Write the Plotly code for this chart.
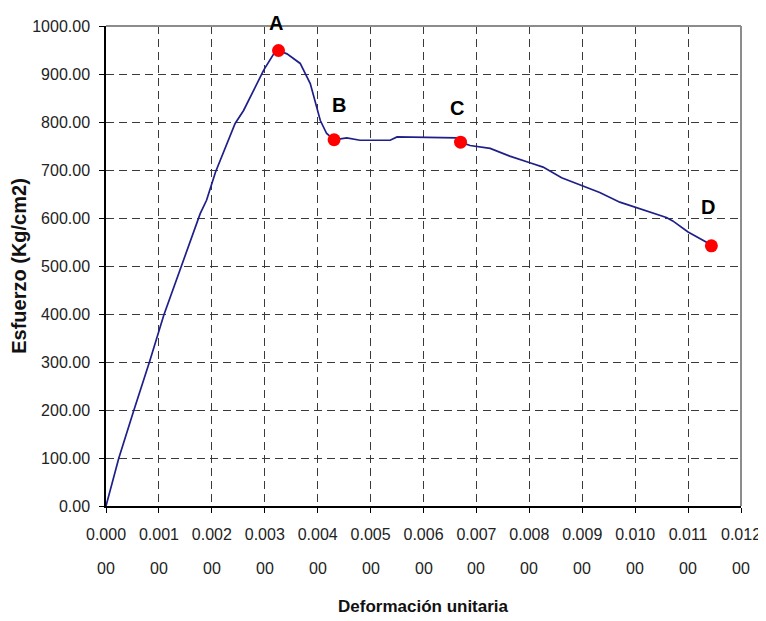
import plotly.graph_objects as go

# curve data: strain (deformación unitaria) vs stress (esfuerzo, Kg/cm2)
strain = [0.0, 0.00024, 0.000525, 0.00083, 0.00109, 0.00141, 0.00178, 0.0019, 0.00207,
          0.00244, 0.0026, 0.00298, 0.00317, 0.00326, 0.00342, 0.00367, 0.00386, 0.00405,
          0.00417, 0.00431, 0.00455, 0.0048, 0.00537, 0.0055, 0.00663, 0.0067, 0.00688,
          0.00726, 0.00763, 0.00801, 0.00826, 0.00861, 0.00914, 0.00933, 0.00971, 0.01002,
          0.01059, 0.01071, 0.011, 0.01134, 0.01144]
stress = [0, 99, 199, 303, 397, 496, 609, 637, 696,
          797, 824, 908, 942, 949, 942, 922, 880, 803,
          776, 763, 767, 762, 762, 769, 767, 758, 751,
          745, 729, 715, 706, 684, 661, 653, 633, 622,
          601, 594, 571, 550, 542]

# highlighted points
point_labels = ["A", "B", "C", "D"]
point_strain = [0.00326, 0.00431, 0.0067, 0.01144]
point_stress = [949, 763, 758, 542]
label_dx = [-3, 5, -4, -3]
label_dy = [-27, -35, -34, -39]

# axis ticks
x_ticks = [0.000, 0.001, 0.002, 0.003, 0.004, 0.005, 0.006, 0.007, 0.008, 0.009, 0.010, 0.011, 0.012]
x_tick_line1 = ["0.000", "0.001", "0.002", "0.003", "0.004", "0.005", "0.006",
                "0.007", "0.008", "0.009", "0.010", "0.011", "0.012"]
x_tick_line2 = ["00"] * 13
y_ticks = [0, 100, 200, 300, 400, 500, 600, 700, 800, 900, 1000]

FONT = "Liberation Sans, Arial, sans-serif"

fig = go.Figure()
fig.add_trace(go.Scatter(x=strain, y=stress, mode="lines",
                         line=dict(color="#1f1f8a", width=1.7), hoverinfo="skip"))
fig.add_trace(go.Scatter(x=point_strain, y=point_stress, mode="markers",
                         marker=dict(color="#ff0000", size=13), hoverinfo="skip"))

for lab, xv, yv, dx, dy in zip(point_labels, point_strain, point_stress, label_dx, label_dy):
    fig.add_annotation(x=xv, y=yv, text=f"<b>{lab}</b>", showarrow=False,
                       xshift=dx, yshift=-dy, font=dict(family=FONT, size=20, color="#000"))

for xv, t in zip(x_ticks, x_tick_line2):
    fig.add_annotation(x=xv, y=0, yref="paper", text=t, showarrow=False,
                       yanchor="middle", yshift=-62,
                       font=dict(family=FONT, size=16, color="#222"))

fig.add_annotation(x=0.5, xref="paper", y=0, yref="paper", yanchor="middle",
                   yshift=-100, text="<b>Deformación unitaria</b>", showarrow=False,
                   font=dict(family=FONT, size=17, color="#111"))

fig.update_xaxes(range=[0, 0.012], tickvals=x_ticks, ticktext=x_tick_line1,
                 tickfont=dict(family=FONT, size=16, color="#222"),
                 ticks="outside", ticklen=5, tickcolor="#000", ticklabelstandoff=8,
                 showline=True, linecolor="#000", linewidth=1.5,
                 showgrid=True, gridcolor="#3a3a3a", gridwidth=1, griddash="8px,5px",
                 zeroline=False, fixedrange=True, automargin=False)
fig.update_yaxes(range=[0, 1000], tickvals=y_ticks, tickformat=".2f",
                 tickfont=dict(family=FONT, size=16, color="#222"),
                 ticks="outside", ticklen=5, tickcolor="#000", ticklabelstandoff=6,
                 showline=True, linecolor="#000", linewidth=1.5,
                 showgrid=True, gridcolor="#3a3a3a", gridwidth=1, griddash="8px,5px",
                 zeroline=False, fixedrange=True, automargin=False,
                 title=dict(text="<b>Esfuerzo (Kg/cm2)</b>", standoff=3,
                            font=dict(family=FONT, size=20, color="#111")))

# gray top and right border
fig.add_shape(type="line", xref="paper", yref="paper", x0=0, x1=1, y0=1, y1=1,
              line=dict(color="#8c8c8c", width=2), layer="above")
fig.add_shape(type="line", xref="paper", yref="paper", x0=1, x1=1, y0=0, y1=1,
              line=dict(color="#8c8c8c", width=2), layer="above")

fig.update_layout(width=758, height=613, margin=dict(l=97.5, r=24.5, t=17.7, b=115.3),
                  paper_bgcolor="white", plot_bgcolor="white", showlegend=False)

fig.write_html("out.html")
